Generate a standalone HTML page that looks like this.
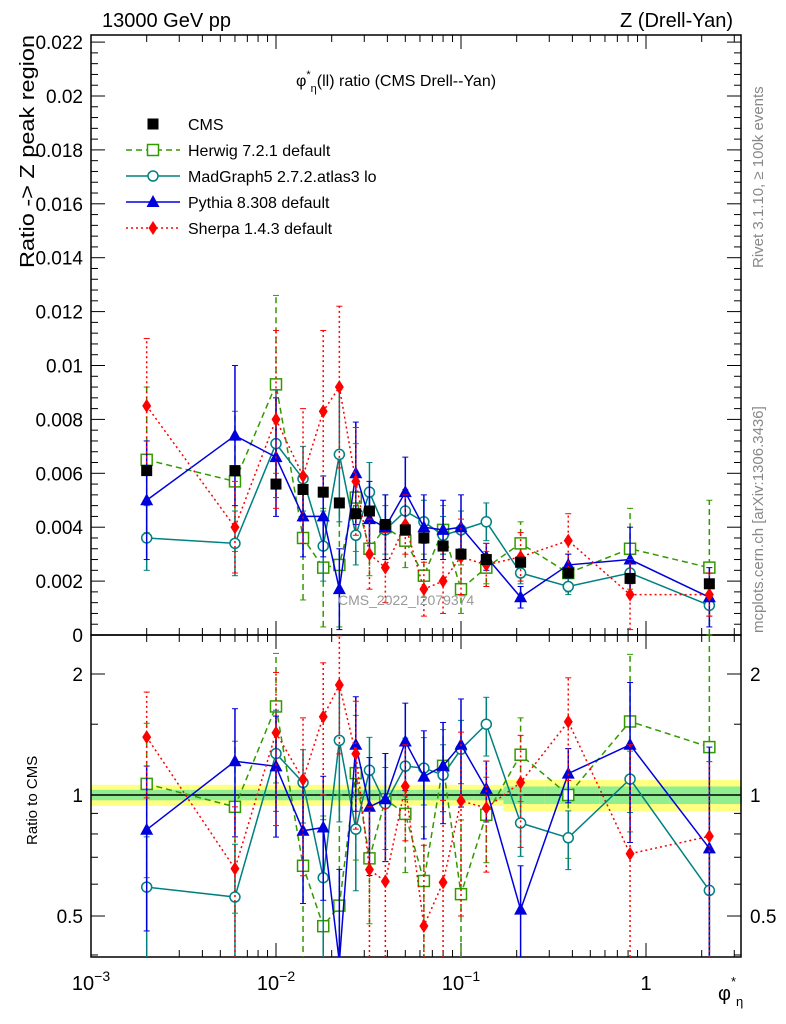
<!DOCTYPE html>
<html><head><meta charset="utf-8"><style>
body{margin:0;background:#fff;overflow:hidden;}
svg{display:block;font-family:"Liberation Sans","DejaVu Sans",sans-serif;}
</style></head><body>
<svg id="c" width="786" height="1024" xmlns="http://www.w3.org/2000/svg"></svg>
<script>
const xs=[0.002,0.006,0.01,0.014,0.018,0.022,0.027,0.032,0.039,0.05,0.063,0.08,0.1,0.137,0.21,0.38,0.82,2.2];
const cms=[0.0061,0.0061,0.0056,0.0054,0.0053,0.0049,0.0045,0.0046,0.0041,0.0039,0.0036,0.0033,0.0030,0.0028,0.0027,0.0023,0.0021,0.0019];
const cmsErr=[0.0002,0.0002,0.0002,0.0002,0.0001,0.0001,0.0001,0.0001,0.0001,0.0001,0.0001,0.0001,0.0001,0.0001,0.0001,0.0001,0.0001,0.0001];
const herwig=[0.0065,0.0057,0.0093,0.0036,0.0025,0.0026,0.0051,0.0032,0.0040,0.0035,0.0022,0.0039,0.0017,0.0025,0.0034,0.0023,0.0032,0.0025];
const herwigErr=[0.0027,0.0026,0.0033,0.0023,0.0022,0.0023,0.002,0.001,0.0012,0.001,0.0008,0.0009,0.0009,0.0006,0.0008,0.0007,0.0015,0.0025];
const mad=[0.0036,0.0034,0.0071,0.0058,0.0033,0.0067,0.0037,0.0053,0.0039,0.0046,0.0042,0.0037,0.0039,0.0042,0.0023,0.0018,0.0023,0.0011];
const madErr=[0.0012,0.0012,0.0020,0.0012,0.0013,0.0025,0.0011,0.0011,0.0009,0.0008,0.0008,0.0007,0.0007,0.0007,0.0004,0.0003,0.0004,0.0004];
const pythia=[0.0050,0.0074,0.0066,0.0044,0.0044,0.0017,0.0060,0.0043,0.0040,0.0053,0.0040,0.0039,0.0040,0.0029,0.0014,0.0026,0.0028,0.0014];
const pythiaErr=[0.0022,0.0026,0.0022,0.0015,0.0015,0.0015,0.0019,0.0014,0.0012,0.0013,0.0012,0.0011,0.0012,0.0005,0.0004,0.0004,0.0012,0.0011];
const sherpa=[0.0085,0.0040,0.0080,0.0059,0.0083,0.0092,0.0057,0.0030,0.0025,0.0041,0.0017,0.0020,0.0029,0.0026,0.0029,0.0035,0.0015,0.0015];
const sherpaErr=[0.0025,0.0017,0.0033,0.0025,0.0030,0.0030,0.0020,0.0013,0.0013,0.0011,0.0010,0.0012,0.0014,0.0008,0.0009,0.0010,0.0013,0.0008];
const yTicks=[0,0.002,0.004,0.006,0.008,0.01,0.012,0.014,0.016,0.018,0.02,0.022];
const yTickLabels=["0","0.002","0.004","0.006","0.008","0.01","0.012","0.014","0.016","0.018","0.02","0.022"];
const rTicks=[0.5,1,2];
const rTickLabels=["0.5","1","2"];

const L=91,R=741,T=35,M=635,B=957;
const X=v=>L+(Math.log10(v)+3)*185;
const Y=v=>M-v*26950;
const YR=v=>795-Math.log10(v)*402;
const clampR=y=>Math.max(M-5,Math.min(B+5,y));
const svg=document.getElementById('c');
const NS="http://www.w3.org/2000/svg";
function el(t,a,p){const e=document.createElementNS(NS,t);for(const k in a)e.setAttribute(k,a[k]);(p||svg).appendChild(e);return e;}
function txt(s,a,p){const e=el('text',a,p);e.textContent=s;return e;}

const bandY=el('g',{});


xs.forEach((x,i)=>{
  const lo=i==0?0.001:Math.sqrt(xs[i-1]*x), hi=i==xs.length-1?3.3:Math.sqrt(x*xs[i+1]);
  const r1=i<14?0.06:0.09, r2=i<14?0.03:0.05;
  el('rect',{x:X(lo),y:YR(1+r1),width:X(hi)-X(lo),height:YR(1-r1)-YR(1+r1),fill:'#ffff80'},bandY);
  el('rect',{x:X(lo),y:YR(1+r2),width:X(hi)-X(lo),height:YR(1-r2)-YR(1+r2),fill:'#90ee90'},bandY);
});
el('line',{x1:L,x2:R,y1:YR(1),y2:YR(1),stroke:'#000','stroke-width':1.5});

const f1=el('rect',{x:L,y:T,width:R-L,height:M-T,fill:'none',stroke:'#000','stroke-width':1.5});


const f2=el('rect',{x:L,y:M,width:R-L,height:B-M,fill:'none',stroke:'#000','stroke-width':1.5});



for(let d=-3;d<=0;d++)for(let m=1;m<=9;m++){
  const v=m*Math.pow(10,d);const px=X(v);if(px>R)continue;
  const len=m==1?14:7;
  [[M,-1],[T,1],[B,-1],[M,1]].forEach(([y0,s])=>el('line',{x1:px,x2:px,y1:y0,y2:y0+s*len,stroke:'#000','stroke-width':1}));
}
const xl=[["10","−3",0.001],["10","−2",0.01],["10","−1",0.1],["1","",1]];
xl.forEach(([b,e,v])=>{
  const t=el('text',{x:X(v),y:990,'font-size':20,'text-anchor':'middle'});
  
  
  t.textContent=b;
  if(e){const s=el('tspan',{dy:-9,'font-size':14},t);s.textContent=e;}
});
yTicks.forEach((v,i)=>{
  const py=Y(v);
  el('line',{x1:L,x2:L+14,y1:py,y2:py,stroke:'#000'});el('line',{x1:R,x2:R-14,y1:py,y2:py,stroke:'#000'});
  if(i<yTicks.length-1)for(let k=1;k<5;k++){const q=Y(v+k*0.0004);el('line',{x1:L,x2:L+7,y1:q,y2:q,stroke:'#000'});el('line',{x1:R,x2:R-7,y1:q,y2:q,stroke:'#000'});}
  const t=txt(yTickLabels[i],{x:83,y:py+7,'font-size':19,'text-anchor':'end'});
  
  
});
rTicks.forEach((v,i)=>{
  const py=YR(v);
  el('line',{x1:L,x2:L+14,y1:py,y2:py,stroke:'#000'});el('line',{x1:R,x2:R-14,y1:py,y2:py,stroke:'#000'});
  const t=txt(rTickLabels[i],{x:83,y:py+7,'font-size':19,'text-anchor':'end'});
  
  
  const t2=txt(rTickLabels[i],{x:750,y:py+7,'font-size':19});
  
  
});
[0.4,0.6,0.7,0.8,0.9,1.5,2.5].forEach(v=>{const py=YR(v);if(py<M||py>B)return;el('line',{x1:L,x2:L+7,y1:py,y2:py,stroke:'#000'});el('line',{x1:R,x2:R-7,y1:py,y2:py,stroke:'#000'});});

function marker(type,cx,cy,col,g){
  if(type=='sq')el('rect',{x:cx-5.5,y:cy-5.5,width:11,height:11,fill:'#000'},g);
  else if(type=='osq')el('rect',{x:cx-5.5,y:cy-5.5,width:11,height:11,fill:'#fff',stroke:col,'stroke-width':1.5},g);
  else if(type=='oc')el('circle',{cx,cy,r:5,fill:'#fff',stroke:col,'stroke-width':1.5},g);
  else if(type=='tri')el('polygon',{points:`${cx},${cy-7} ${cx-6.5},${cy+5} ${cx+6.5},${cy+5}`,fill:col},g);
  else if(type=='dia')el('polygon',{points:`${cx},${cy-7} ${cx+4.5},${cy} ${cx},${cy+7} ${cx-4.5},${cy}`,fill:col},g);
}
const clipR=el('clipPath',{id:'cr'});el('rect',{x:L,y:M,width:R-L,height:B-M},clipR);
const clipM=el('clipPath',{id:'cm'});el('rect',{x:L,y:T,width:R-L,height:M-T+4},clipM);
const series=[
 {n:'herwig',v:herwig,e:herwigErr,c:'#339900',dash:'6,4',m:'osq'},
 {n:'madgraph',v:mad,e:madErr,c:'#008080',dash:'',m:'oc'},
 {n:'pythia',v:pythia,e:pythiaErr,c:'#0000dd',dash:'',m:'tri'},
 {n:'sherpa',v:sherpa,e:sherpaErr,c:'#ff0000',dash:'2,3',m:'dia'},
];
series.forEach(s=>{
  ['main','ratio'].forEach(panel=>{
    const g=el('g',{'clip-path':panel=='main'?'url(#cm)':'url(#cr)'});
    
    
    const fy=panel=='main'?(v,i)=>Y(v):(v,i)=>clampR(YR(v/cms[i]));
    const pts=s.v.map((v,i)=>X(xs[i])+','+fy(v,i)).join(' ');
    el('polyline',{points:pts,fill:'none',stroke:s.c,'stroke-width':1.5,'stroke-dasharray':s.dash},g);
    s.v.forEach((v,i)=>{
      const px=X(xs[i]);const y1=fy(Math.max(v-s.e[i],1e-6),i),y2=fy(v+s.e[i],i);
      el('line',{x1:px,x2:px,y1,y2,stroke:s.c,'stroke-width':1.5,'stroke-dasharray':s.dash},g);
      el('line',{x1:px-3,x2:px+3,y1,y2:y1,stroke:s.c},g);el('line',{x1:px-3,x2:px+3,y1:y2,y2,stroke:s.c},g);
      marker(s.m,px,fy(v,i),s.c,g);
    });
  });
});
const gc=el('g',{});


cms.forEach((v,i)=>{const px=X(xs[i]);el('line',{x1:px,x2:px,y1:Y(v-cmsErr[i]),y2:Y(v+cmsErr[i]),stroke:'#000'},gc);marker('sq',px,Y(v),'#000',gc);});

function label(s,a,name){const t=txt(s,a);return t;}
label('13000 GeV pp',{x:102,y:27,'font-size':20},'energy-label');
label('Z (Drell-Yan)',{x:733,y:27,'font-size':20,'text-anchor':'end'},'process-label');
const tt=el('text',{x:296,y:86,'font-size':16});


tt.innerHTML='φ<tspan dy="-8" font-size="11">*</tspan><tspan dy="14" font-size="11">η</tspan><tspan dy="-6">(ll) ratio (CMS Drell--Yan)</tspan>';
label('Ratio -> Z peak region',{x:0,y:0,'font-size':20,textLength:233,lengthAdjust:'spacingAndGlyphs',transform:'translate(34,268) rotate(-90)'},'y-axis-title');
label('Ratio to CMS',{x:0,y:0,'font-size':15,transform:'translate(37,845) rotate(-90)'},'ratio-axis-title');
const xt=el('text',{x:718,y:1000,'font-size':20});


xt.innerHTML='φ<tspan dy="-14" font-size="13">*</tspan><tspan dy="20" font-size="13">η</tspan>';
label('Rivet 3.1.10, ≥ 100k events',{x:0,y:0,'font-size':15,fill:'#888',transform:'translate(763,268) rotate(-90)'},'rivet-label');
label('mcplots.cern.ch [arXiv:1306.3436]',{x:0,y:0,'font-size':15,fill:'#888',transform:'translate(763,633) rotate(-90)'},'mcplots-label');
label('CMS_2022_I2079374',{x:338,y:605,'font-size':14,fill:'#999'},'analysis-id');

const leg=[['CMS','#000','','sq'],['Herwig 7.2.1 default','#339900','6,4','osq'],['MadGraph5 2.7.2.atlas3 lo','#008080','','oc'],['Pythia 8.308 default','#0000dd','','tri'],['Sherpa 1.4.3 default','#ff0000','2,3','dia']];
leg.forEach((l,i)=>{
  const y=124+i*26;
  const g=el('g',{});
  
  
  if(i>0)el('line',{x1:126,x2:180,y1:y,y2:y,stroke:l[1],'stroke-width':1.5,'stroke-dasharray':l[2]},g);
  marker(l[3],153,y,l[1],g);
  txt(l[0],{x:188,y:y+6,'font-size':16},g);
});
</script>
</body></html>
